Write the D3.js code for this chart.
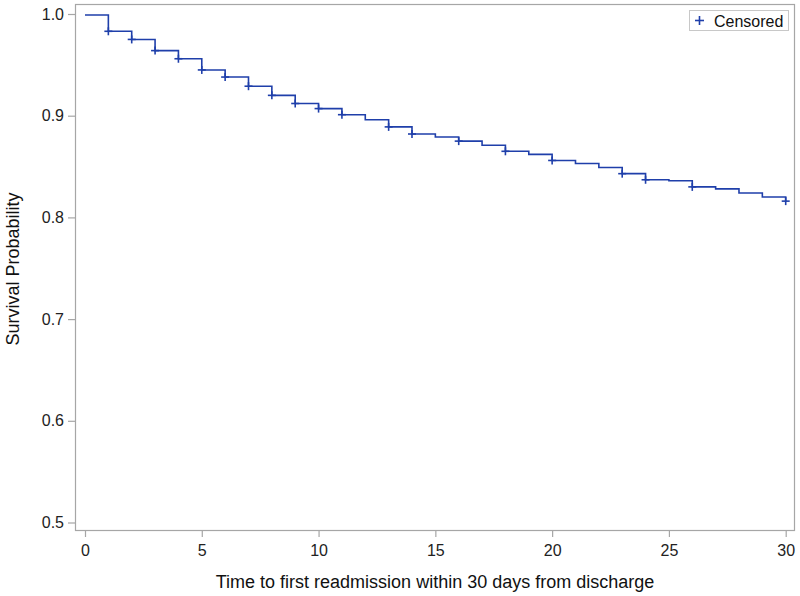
<!DOCTYPE html>
<html><head><meta charset="utf-8">
<script src="https://cdn.jsdelivr.net/npm/d3@7"></script>
<style>body{margin:0;background:#fff}svg{display:block}text{font-family:"Liberation Sans",Arial,sans-serif}</style>
</head><body><svg id="c" width="800" height="596"></svg>
<script>
// Step survival estimates: value after drop at each day
const days = [0,1,2,3,4,5,6,7,8,9,10,11,12,13,14,15,16,17,18,19,20,21,22,23,24,25,26,27,28,29,30];
const survival = [0.999,0.983,0.975,0.964,0.956,0.945,0.938,0.929,0.920,0.912,0.907,0.901,0.896,0.889,0.882,0.879,0.875,0.871,0.865,0.862,0.856,0.853,0.849,0.843,0.837,0.836,0.830,0.828,0.824,0.820,0.816];
const censoredDays = [1,2,3,4,5,6,7,8,9,10,11,13,14,16,18,20,23,24,26,30];
const xTicks = [0,5,10,15,20,25,30];
const yTicks = [0.5,0.6,0.7,0.8,0.9,1.0];

const svg = d3.select("#c");
const L=75,R=795,T=4,B=531;
const x = d3.scaleLinear().domain([0,30]).range([85,785.7]);
const y = d3.scaleLinear().domain([0.5,1.0]).range([522.5,14]);
const gray="#a6a6a6", blue="#1f3faa";

// frame
svg.append("rect").attr("x",L+0.5).attr("y",T+0.5).attr("width",R-L-1).attr("height",B-T-1)
  .attr("fill","none").attr("stroke",gray).attr("stroke-width",1.2);

// axes
const xa = svg.append("g").attr("transform",`translate(0,${B})`)
  .call(d3.axisBottom(x).tickValues(xTicks).tickSize(6).tickPadding(5).tickFormat(d3.format("d")));
const ya = svg.append("g").attr("transform",`translate(${L},0)`)
  .call(d3.axisLeft(y).tickValues(yTicks).tickSize(7).tickPadding(4).tickFormat(d3.format(".1f")));
[xa,ya].forEach(g=>{
  g.select(".domain").remove();
  g.selectAll(".tick line").attr("stroke",gray).attr("stroke-width",1.2);
  g.selectAll(".tick text").attr("fill","#222").style("font-size","16px").style("font-family","'Liberation Sans',Arial,sans-serif");
});
xa.selectAll(".tick text").attr("dy","0.9em");

// titles
svg.append("text").attr("x",(L+R)/2).attr("y",588).attr("text-anchor","middle")
  .style("font-size","18px").attr("fill","#111").text("Time to first readmission within 30 days from discharge");
svg.append("text").attr("transform","translate(19,269) rotate(-90)").attr("text-anchor","middle")
  .style("font-size","18px").attr("fill","#111").text("Survival Probability");

// step curve
const pts = days.map((d,i)=>[d,survival[i]]);
const line = d3.line().x(d=>x(d[0])).y(d=>y(d[1])).curve(d3.curveStepAfter);
svg.append("path").datum(pts).attr("d",line).attr("fill","none")
  .attr("stroke",blue).attr("stroke-width",1.6);

// censor marks
const s = 4;
const cm = svg.append("g").attr("stroke",blue).attr("stroke-width",1.6);
censoredDays.forEach(d=>{
  const v = survival[days.indexOf(d)];
  const cx=x(d), cy=y(v);
  cm.append("line").attr("x1",cx-s).attr("x2",cx+s).attr("y1",cy).attr("y2",cy);
  cm.append("line").attr("x1",cx).attr("x2",cx).attr("y1",cy-s).attr("y2",cy+s);
});

// legend
const lg = svg.append("g");
lg.append("rect").attr("x",689.5).attr("y",10.5).attr("width",99).attr("height",20)
  .attr("fill","#fff").attr("stroke","#c8c8c8").attr("stroke-width",1);
lg.append("line").attr("x1",695).attr("x2",704).attr("y1",20.5).attr("y2",20.5).attr("stroke",blue).attr("stroke-width",1.6);
lg.append("line").attr("x1",699.5).attr("x2",699.5).attr("y1",16).attr("y2",25).attr("stroke",blue).attr("stroke-width",1.6);
lg.append("text").attr("x",714).attr("y",26.5).style("font-size","16px").attr("fill","#111").text("Censored");
</script></body></html>
